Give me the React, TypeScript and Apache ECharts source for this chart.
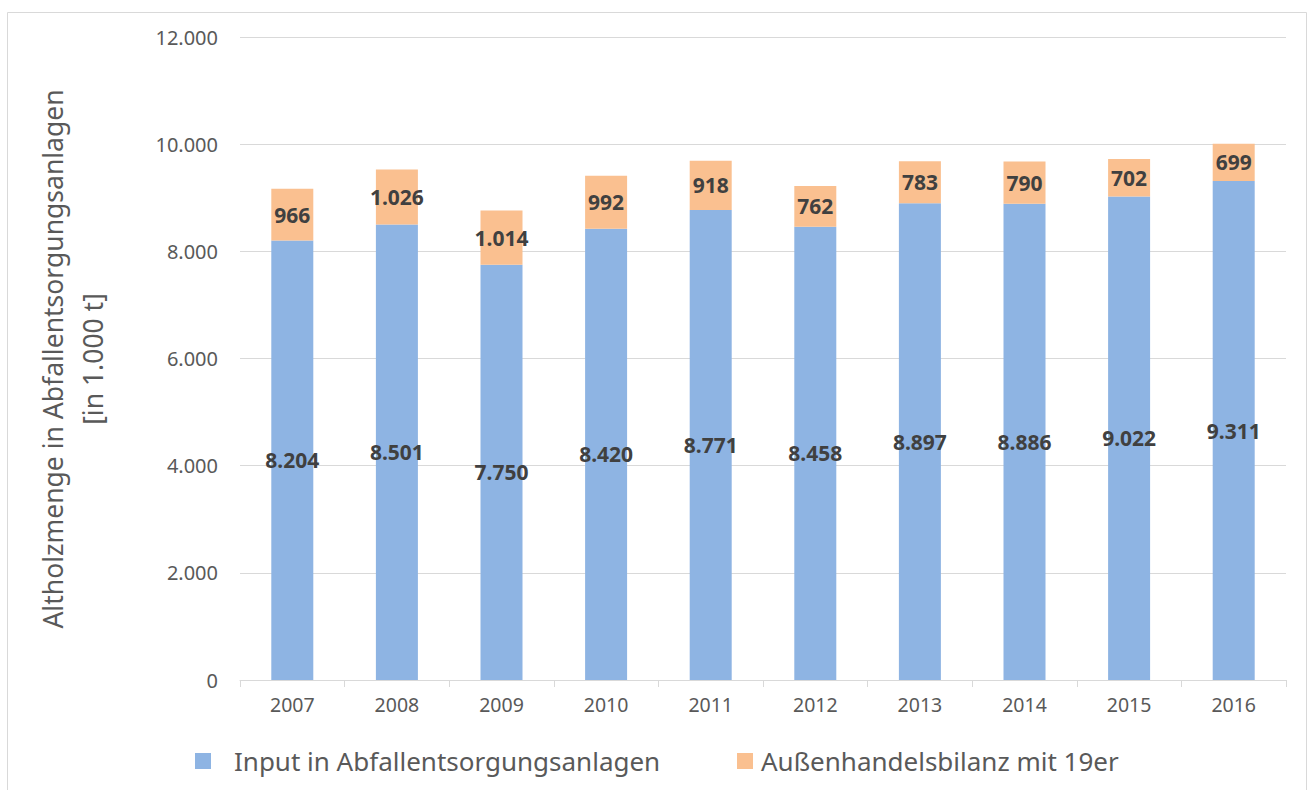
import React, { useEffect, useRef } from "react";
import * as echarts from "echarts";

const years = ["2007", "2008", "2009", "2010", "2011", "2012", "2013", "2014", "2015", "2016"];
const inputValues = [8204, 8501, 7750, 8420, 8771, 8458, 8897, 8886, 9022, 9311];
const tradeValues = [966, 1026, 1014, 992, 918, 762, 783, 790, 702, 699];
const seriesNames = ["Input in Abfallentsorgungsanlagen", "Außenhandelsbilanz mit 19er"];
const yAxisTitle = ["Altholzmenge in Abfallentsorgungsanlagen", "[in 1.000 t]"];

const fmt = (v: number) => {
  const s = String(Math.round(v));
  return s.replace(/\B(?=(\d{3})+(?!\d))/g, ".");
};

const FONT = "'Noto Sans', 'Open Sans', sans-serif";

export default function App() {
  const ref = useRef<HTMLDivElement>(null);
  useEffect(() => {
    if (!ref.current) return;
    const chart = echarts.init(ref.current, null, { renderer: "svg" });
    const legendBase = {
      top: 748,
      itemWidth: 16,
      itemHeight: 16,
      icon: "rect",
      padding: 0,
    };
    chart.setOption({
      animation: false,
      backgroundColor: "#ffffff",
      textStyle: { fontFamily: FONT },
      grid: { left: 240, right: 23, top: 37, bottom: 110 },
      legend: [
        {
          ...legendBase,
          left: 195,
          data: [seriesNames[0]],
          textStyle: { fontSize: 26, color: "#595959", fontFamily: FONT, padding: [0, 0, 0, 18] },
        },
        {
          ...legendBase,
          left: 737,
          data: [seriesNames[1]],
          textStyle: { fontSize: 26, color: "#595959", fontFamily: FONT, padding: [0, 0, 0, 3] },
        },
      ],
      xAxis: {
        type: "category",
        data: years,
        axisLine: { lineStyle: { color: "#D9D9D9", width: 1 } },
        axisTick: { show: true, length: 7, lineStyle: { color: "#D9D9D9" } },
        axisLabel: { color: "#595959", fontSize: 19.5, margin: 14, fontFamily: FONT },
      },
      yAxis: {
        type: "value",
        min: 0,
        max: 12000,
        interval: 2000,
        axisLine: { show: false },
        axisTick: { show: false },
        axisLabel: { color: "#595959", fontSize: 20, margin: 22, fontFamily: FONT, formatter: (v: number) => fmt(v) },
        splitLine: { lineStyle: { color: "#D9D9D9", width: 1 } },
      },
      graphic: [
        {
          type: "rect",
          silent: true,
          shape: { x: 7.5, y: 12.5, width: 1299, height: 800 },
          style: { fill: "none", stroke: "#D9D9D9", lineWidth: 1 },
        },
        {
          type: "text",
          x: 73,
          y: 359,
          rotation: Math.PI / 2,
          style: {
            text: yAxisTitle.join("\n"),
            fontSize: 26.5,
            lineHeight: 40,
            fill: "#595959",
            fontFamily: FONT,
            align: "center",
            verticalAlign: "middle",
          },
        },
      ],
      series: [
        {
          name: seriesNames[0],
          type: "bar",
          stack: "total",
          barWidth: 42,
          data: inputValues,
          itemStyle: { color: "#8EB4E3" },
          label: {
            show: true,
            position: "inside",
            color: "#404040",
            fontWeight: "bold",
            fontSize: 21,
            fontFamily: FONT,
            formatter: (p: any) => fmt(p.value),
          },
        },
        {
          name: seriesNames[1],
          type: "bar",
          stack: "total",
          barWidth: 42,
          data: tradeValues,
          itemStyle: { color: "#FAC090" },
          label: {
            show: true,
            position: "inside",
            color: "#404040",
            fontWeight: "bold",
            fontSize: 21,
            fontFamily: FONT,
            formatter: (p: any) => fmt(p.value),
          },
        },
      ],
    });
    return () => chart.dispose();
  }, []);
  return <div ref={ref} style={{ position: "fixed", left: 0, top: 0, width: 1309, height: 790 }} />;
}
